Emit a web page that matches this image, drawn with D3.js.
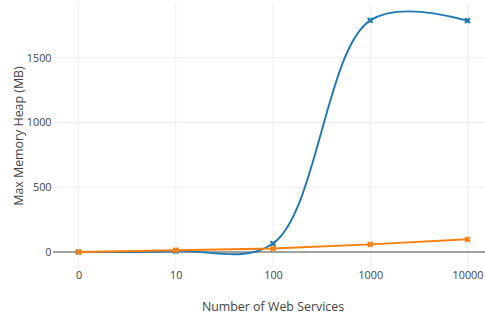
<!DOCTYPE html>
<html>
<head>
<meta charset="utf-8">
<script src="https://cdn.jsdelivr.net/npm/d3@7"></script>
<style>
  html, body { margin: 0; padding: 0; background: #fff; }
  svg { display: block; font-family: "Open Sans", sans-serif; }
</style>
</head>
<body>
<svg id="chart" width="485" height="322"></svg>
<script>
// Number of deployed web services (categorical axis)
const categories = ["0", "10", "100", "1000", "10000"];
// Max memory heap in MB for each configuration
const seriesA = [0, 8, 65, 1788, 1786];
const seriesB = [0, 14, 27, 59, 98];
const yTicks = [0, 500, 1000, 1500];

const colors = { a: "#1f77b4", b: "#ff7f0e" };

const margin = { left: 53, right: 493, top: 4, bottom: 268 };
const svg = d3.select("#chart");

const x = d3.scalePoint()
  .domain(categories)
  .range([margin.left, margin.right])
  .padding(0.262);

const y = d3.scaleLinear()
  .domain([-123.5, 1914.6])
  .range([margin.bottom, margin.top]);

// Grid lines
const grid = svg.append("g");
grid.selectAll("line.vx")
  .data(categories)
  .join("line")
  .attr("x1", d => x(d)).attr("x2", d => x(d))
  .attr("y1", margin.top).attr("y2", margin.bottom)
  .attr("stroke", "#eee").attr("stroke-width", 1);
grid.selectAll("line.hy")
  .data(yTicks.filter(d => d !== 0))
  .join("line")
  .attr("x1", margin.left).attr("x2", margin.right)
  .attr("y1", d => y(d)).attr("y2", d => y(d))
  .attr("stroke", "#eee").attr("stroke-width", 1);

// Zero line
svg.append("line")
  .attr("x1", margin.left).attr("x2", margin.right)
  .attr("y1", y(0)).attr("y2", y(0))
  .attr("stroke", "#444").attr("stroke-width", 1);

// Axes (labels only, no domain or tick marks)
const yAxis = d3.axisLeft(y).tickValues(yTicks).tickFormat(d3.format("d")).tickSize(0).tickPadding(1.5);
const gy = svg.append("g").attr("transform", `translate(${margin.left},0)`).call(yAxis);
gy.select(".domain").remove();
gy.selectAll("text").attr("font-size", 10.8).attr("fill", "#444")
  .attr("font-family", "'Open Sans', sans-serif");

const xAxis = d3.axisBottom(x).tickSize(0).tickPadding(3);
const gx = svg.append("g").attr("transform", `translate(0,${margin.bottom})`).call(xAxis);
gx.select(".domain").remove();
gx.selectAll("text").attr("font-size", 10.8).attr("fill", "#444")
  .attr("font-family", "'Open Sans', sans-serif");

// Axis titles
svg.append("text")
  .attr("x", (margin.left + margin.right) / 2)
  .attr("y", 311)
  .attr("text-anchor", "middle")
  .attr("font-size", 12.4).attr("fill", "#444")
  .text("Number of Web Services");

svg.append("text")
  .attr("transform", `translate(23,${(margin.top + margin.bottom) / 2}) rotate(-90)`)
  .attr("text-anchor", "middle")
  .attr("font-size", 12.4).attr("fill", "#444")
  .text("Max Memory Heap (MB)");

// Centripetal spline smoothing (quadratic end segments, cubic inside)
function smoothCurve(context) {
  let pts = [];
  return {
    areaStart() {}, areaEnd() {},
    lineStart() { pts = []; },
    point(px, py) { pts.push([px, py]); },
    lineEnd() {
      if (pts.length < 3) {
        pts.forEach((p, i) => i ? context.lineTo(p[0], p[1]) : context.moveTo(p[0], p[1]));
        return;
      }
      const tangent = (p0, p1, p2) => {
        const d1x = p0[0] - p1[0], d1y = p0[1] - p1[1];
        const d2x = p2[0] - p1[0], d2y = p2[1] - p1[1];
        const d1a = Math.pow(d1x * d1x + d1y * d1y, 0.25);
        const d2a = Math.pow(d2x * d2x + d2y * d2y, 0.25);
        const nx = d2a * d2a * d1x - d1a * d1a * d2x;
        const ny = d2a * d2a * d1y - d1a * d1a * d2y;
        const den1 = 3 * d2a * (d1a + d2a), den2 = 3 * d1a * (d1a + d2a);
        return [[p1[0] + nx / den1, p1[1] + ny / den1], [p1[0] - nx / den2, p1[1] - ny / den2]];
      };
      const t = [];
      for (let i = 1; i < pts.length - 1; i++) t.push(tangent(pts[i - 1], pts[i], pts[i + 1]));
      context.moveTo(pts[0][0], pts[0][1]);
      context.quadraticCurveTo(t[0][0][0], t[0][0][1], pts[1][0], pts[1][1]);
      for (let i = 2; i < pts.length - 1; i++) {
        context.bezierCurveTo(t[i - 2][1][0], t[i - 2][1][1], t[i - 1][0][0], t[i - 1][0][1], pts[i][0], pts[i][1]);
      }
      const last = t[t.length - 1][1], end = pts[pts.length - 1];
      context.quadraticCurveTo(last[0], last[1], end[0], end[1]);
    }
  };
}

// Thick "x" marker
function xMarker(r) {
  const rx = r * 0.8 / Math.SQRT2;
  const ne = `l${rx},${rx}`, se = `l${rx},${-rx}`, sw = `l${-rx},${-rx}`, nw = `l${-rx},${rx}`;
  return `M0,${rx}` + ne + se + sw + se + sw + nw + sw + nw + ne + nw + ne + "Z";
}

const series = [
  { values: seriesA, color: colors.a, curve: smoothCurve },
  { values: seriesB, color: colors.b, curve: d3.curveLinear }
];

const plot = svg.append("g");
series.forEach(s => {
  const data = categories.map((c, i) => ({ c, v: s.values[i] }));
  const line = d3.line().x(d => x(d.c)).y(d => y(d.v)).curve(s.curve);
  plot.append("path")
    .datum(data)
    .attr("d", line)
    .attr("fill", "none")
    .attr("stroke", s.color)
    .attr("stroke-width", 1.9)
    .attr("stroke-linejoin", "round");
  plot.selectAll(null)
    .data(data)
    .join("path")
    .attr("transform", d => `translate(${x(d.c)},${y(d.v)})`)
    .attr("d", xMarker(2.8))
    .attr("fill", s.color);
});
</script>
</body>
</html>
